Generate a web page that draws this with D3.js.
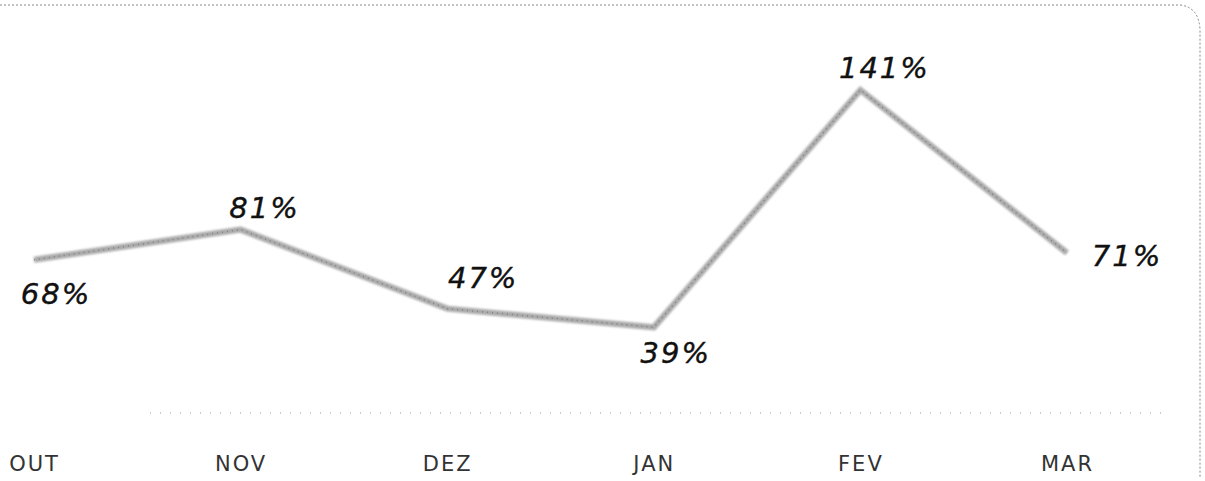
<!DOCTYPE html>
<html>
<head>
<meta charset="utf-8">
<script src="https://cdn.jsdelivr.net/npm/d3@7"></script>
<style>
  body { margin: 0; background: #fff; }
  svg { display: block; }
</style>
</head>
<body>
<svg id="chart"></svg>
<script>
// data
var months = ["OUT", "NOV", "DEZ", "JAN", "FEV", "MAR"];
var values = [68, 81, 47, 39, 141, 71];

// label offsets from each point (layout only)
var labelOffsets = [[22, 44], [24, -12], [36, -21], [22, 36], [24, -12], [60, 13]];

var width = 1205,
    height = 481;

var svg = d3.select("#chart")
    .attr("width", width)
    .attr("height", height);

var defs = svg.append("defs");
defs.append("filter")
        .attr("id", "soft")
        .attr("x", "-5%").attr("y", "-5%")
        .attr("width", "110%").attr("height", "110%")
    .append("feGaussianBlur")
        .attr("stdDeviation", 1.3);

var x = d3.scalePoint()
    .domain(months)
    .range([34, 1067]);

var y = d3.scaleLinear()
    .domain([0, 141])
    .range([418, 90]);

// scanned-looking frame
svg.append("path")
    .attr("d", "M0 5 L1180 5 Q1199 7 1200 30 L1200 478")
    .attr("fill", "none")
    .attr("stroke", "#888")
    .attr("stroke-width", 1)
    .attr("stroke-dasharray", "2 2");

// baseline
svg.append("line")
    .attr("x1", 150).attr("x2", 1165)
    .attr("y1", 413).attr("y2", 413)
    .attr("stroke", "#999")
    .attr("stroke-width", 1)
    .attr("stroke-dasharray", "1 9");

var line = d3.line()
    .x(function(d, i) { return x(months[i]); })
    .y(function(d) { return y(d); });

svg.append("path")
    .datum(values)
    .attr("d", line)
    .attr("fill", "none")
    .attr("stroke", "#aaa")
    .attr("stroke-width", 6)
    .attr("stroke-linejoin", "miter")
    .attr("filter", "url(#soft)");

svg.append("path")
    .datum(values)
    .attr("d", line)
    .attr("fill", "none")
    .attr("stroke", "#666")
    .attr("stroke-width", 1.5)
    .attr("stroke-dasharray", "1 4")
    .attr("opacity", 0.6);

// value labels
svg.selectAll("text.val")
    .data(values)
    .enter()
    .append("text")
        .attr("class", "val")
        .attr("x", function(d, i) { return x(months[i]) + labelOffsets[i][0]; })
        .attr("y", function(d, i) { return y(d) + labelOffsets[i][1]; })
        .attr("text-anchor", "middle")
        .style("font-family", "'DejaVu Sans', Verdana, sans-serif")
        .style("font-style", "italic")
        .style("font-size", "29px")
        .style("letter-spacing", "2px")
        .style("fill", "#111")
        .style("stroke", "#111")
        .style("stroke-width", 0.4)
        .text(function(d) { return d + "%"; });

// category axis
var xAxis = d3.axisBottom(x).tickSize(0).tickPadding(0);

var axisG = svg.append("g")
    .attr("transform", "translate(0,452)")
    .call(xAxis);

axisG.select(".domain").remove();
axisG.selectAll("text")
    .attr("dy", "0.9em")
    .style("font-family", "'DejaVu Sans', sans-serif")
    .style("font-size", "21px")
    .style("letter-spacing", "2px")
    .style("fill", "#333");
</script>
</body>
</html>
